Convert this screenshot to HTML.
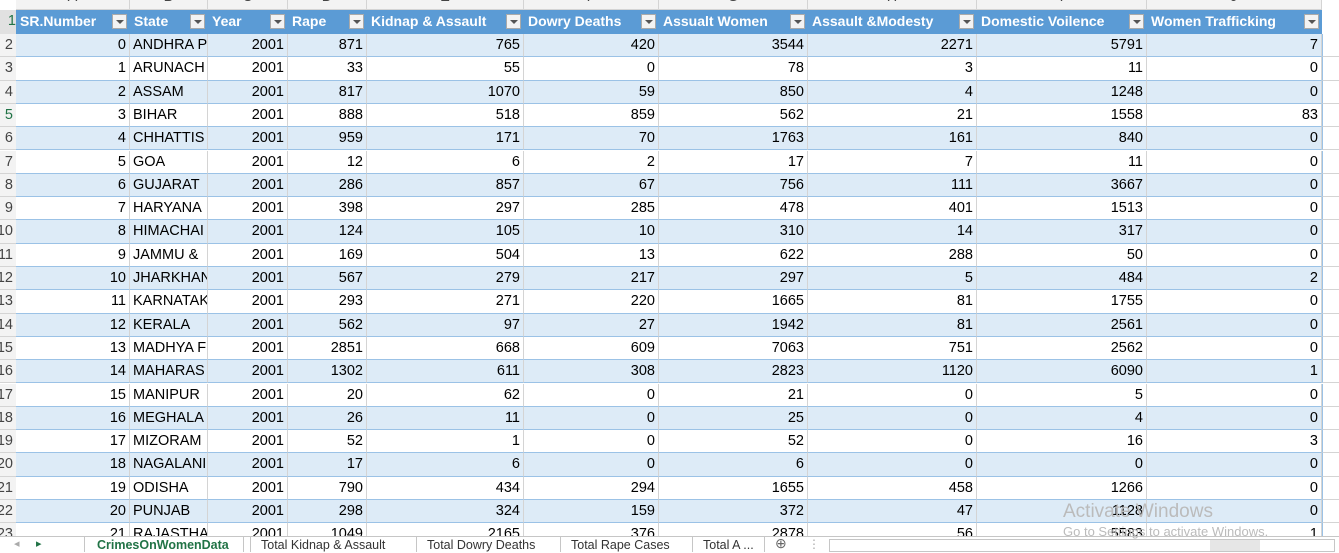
<!DOCTYPE html>
<html><head><meta charset="utf-8">
<style>
body{margin:0;width:1339px;height:552px;overflow:hidden;background:#fff;font-family:"Liberation Sans",sans-serif;position:relative}
.c{position:absolute;box-sizing:border-box;white-space:nowrap;overflow:hidden;font-size:14.5px;line-height:23px;color:#000}
.h{color:#fff;font-weight:bold;font-size:14px;background:#5b9bd5;padding-left:4px}
.dd{position:absolute;width:15px;height:15px;background:#f3f3f3;border:1px solid #aaa;box-sizing:border-box;top:4px}
.dd:after{content:"";position:absolute;left:3px;top:5px;border-left:4px solid transparent;border-right:4px solid transparent;border-top:4px solid #555}
.tab{position:absolute;top:537px;height:15px;font-size:12.5px;line-height:16px;color:#333;border-left:1px solid #c6c6c6;padding:0 10px;box-sizing:border-box}
</style></head><body>
<div id="sheet"></div>
<div style="position:absolute;left:0;top:536px;width:1339px;height:16px;background:#fff;border-top:1px solid #c6c6c6"></div>
<div class="c" style="left:14px;top:536px;font-size:11px;line-height:16px;color:#aaa">◂</div>
<div class="c" style="left:36px;top:536px;font-size:11px;line-height:16px;color:#217346">▸</div>
<div class="tab" style="left:84px;width:160px;font-weight:bold;color:#217346;background:#fff;border-left:1px solid #c6c6c6;border-right:1px solid #c6c6c6;padding-left:12px">CrimesOnWomenData</div>
<div class="tab" style="left:250px">Total Kidnap &amp; Assault</div>
<div class="tab" style="left:416px">Total Dowry Deaths</div>
<div class="tab" style="left:560px">Total Rape Cases</div>
<div class="tab" style="left:692px;border-right:1px solid #c6c6c6">Total A ...</div>
<div class="c" style="left:775px;top:535px;font-size:14px;line-height:17px;color:#666">⊕</div>
<div class="c" style="left:808px;top:536px;font-size:12px;line-height:16px;color:#aaa">⋮</div>
<div style="position:absolute;left:829px;top:539px;width:506px;height:13px;border:1px solid #c6c6c6;box-sizing:border-box;background:#fff"><div style="position:absolute;left:380px;top:0;width:50px;height:11px;background:#e6e6e6"></div></div>
<div class="c" style="left:1063px;top:500px;font-size:19px;color:#bbb;line-height:24px">Activate Windows</div>
<div class="c" style="left:1063px;top:524px;font-size:13px;color:#bbb;line-height:16px">Go to Settings to activate Windows.</div>
<script>
const headers=["SR.Number","State","Year","Rape","Kidnap & Assault","Dowry Deaths","Assualt Women","Assault &Modesty","Domestic Voilence","Women Trafficking"];
const states=["ANDHRA P","ARUNACH","ASSAM","BIHAR","CHHATTIS","GOA","GUJARAT","HARYANA","HIMACHAI","JAMMU &","JHARKHAN","KARNATAK","KERALA","MADHYA F","MAHARAS","MANIPUR","MEGHALA","MIZORAM","NAGALANI","ODISHA","PUNJAB","RAJASTHA"];
const rape=[871,33,817,888,959,12,286,398,124,169,567,293,562,2851,1302,20,26,52,17,790,298,1049];
const kidnap=[765,55,1070,518,171,6,857,297,105,504,279,271,97,668,611,62,11,1,6,434,324,2165];
const dowry=[420,0,59,859,70,2,67,285,10,13,217,220,27,609,308,0,0,0,0,294,159,376];
const assaultW=[3544,78,850,562,1763,17,756,478,310,622,297,1665,1942,7063,2823,21,25,52,6,1655,372,2878];
const modesty=[2271,3,4,21,161,7,111,401,14,288,5,81,81,751,1120,0,0,0,0,458,47,56];
const domestic=[5791,11,1248,1558,840,11,3667,1513,317,50,484,1755,2561,2562,6090,5,4,16,0,1266,1128,5583];
const traffic=[7,0,0,83,0,0,0,0,0,0,2,0,0,0,1,0,0,3,0,0,0,1];
const colX=[16,130,208,288,367,524,659,808,977,1147,1322];
const letters=["A","B","C","D","E","F","G","H","I","J"];
const rowH=23.3, top0=10, hdrH=24;
const sheet=document.getElementById('sheet');
function mk(cls,l,t,w,h,txt,align){const d=document.createElement('div');d.className=cls;d.style.left=l+'px';d.style.top=t+'px';d.style.width=w+'px';d.style.height=h+'px';if(align)d.style.textAlign=align;if(txt!==undefined)d.textContent=txt;sheet.appendChild(d);return d;}
for(let i=0;i<10;i++){const d=mk('c',colX[i],-14,colX[i+1]-colX[i],24,letters[i],'center');d.style.color='#444';d.style.background='#f3f3f3';d.style.borderRight='1px solid #d4d4d4';d.style.borderBottom='1px solid #d4d4d4';

}
for(let i=0;i<10;i++){const d=mk('c h',colX[i],top0,colX[i+1]-colX[i],hdrH,headers[i]);


const dd=document.createElement('div');dd.className='dd';dd.style.left=(colX[i+1]-colX[i]-18)+'px';d.appendChild(dd);}
const rn0=mk('c',-10,top0,26,hdrH,'1','right');rn0.style.color='#217346';rn0.style.background='#e1e1e1';


const cols=[null,states,null,rape,kidnap,dowry,assaultW,modesty,domestic,traffic];
for(let r=0;r<states.length;r++){
  const y=top0+hdrH+r*rowH;
  const bg=r%2===0?'#ddebf7':'#fff';
  const rn=mk('c',-10,y,26,rowH,String(r+2),'right');rn.style.color=r===3?'#217346':'#444';rn.style.background='#f3f3f3';rn.style.borderBottom='1px solid #d4d4d4';rn.style.paddingRight='3px';
  
  
  for(let i=0;i<10;i++){
    let v,al='right';
    if(i===0)v=r;else if(i===1){v=states[r];al='left';}else if(i===2)v=2001;else v=cols[i][r];
    const d=mk('c',colX[i],y,colX[i+1]-colX[i],rowH,String(v),al);
    d.style.background=bg;d.style.borderRight='1px solid #d4d4d4';d.style.borderBottom='1px solid #9bc2e6';
    d.style.padding=al==='left'?'0 0 0 3px':'0 3px 0 0';
    
    
  }
  const ex=mk('c',1322,y,17,rowH,'');ex.style.borderBottom='1px solid #d4d4d4';ex.style.borderLeft='1px solid #9bc2e6';
  
  
}
</script>
</body></html>
